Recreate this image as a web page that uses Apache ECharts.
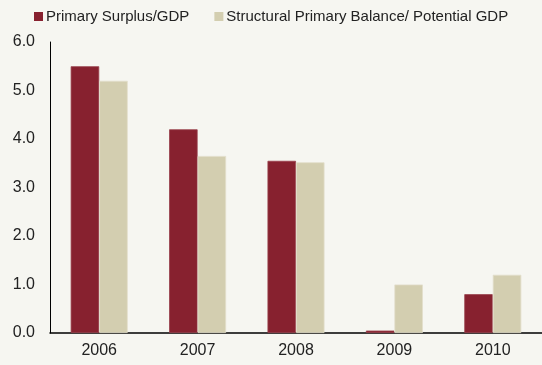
<!DOCTYPE html>
<html><head><meta charset="utf-8">
<script src="https://cdn.jsdelivr.net/npm/echarts@6/dist/echarts.min.js"></script>
<style>html,body{margin:0;padding:0;background:#F6F6F1;}#c{width:542px;height:365px;}</style>
</head><body><div id="c"></div>
<script>
var categories = ['2006','2007','2008','2009','2010'];
var primarySurplus = [5.5, 4.2, 3.55, 0.05, 0.8];
var structuralBalance = [5.2, 3.65, 3.52, 1.0, 1.2];
var seriesNames = ['Primary Surplus/GDP', 'Structural Primary Balance/ Potential GDP'];

var chart = echarts.init(document.getElementById('c'));
chart.setOption({
  backgroundColor: '#F6F6F1',
  animation: false,
  textStyle: {fontFamily: 'Liberation Sans, Arial, sans-serif'},
  legend: {
    left: 29, top: 4,
    itemWidth: 9, itemHeight: 9, itemGap: 25,
    icon: 'rect',
    itemStyle: {borderWidth: 0},
    textStyle: {fontSize: 15, color: '#222', padding: [0,0,0,-2]},
    data: seriesNames
  },
  grid: {left: 50, right: -6, top: 42, bottom: 32},
  xAxis: {
    type: 'category', data: categories,
    axisLine: {lineStyle: {color: '#000', width: 1.5}},
    axisTick: {show: false},
    axisLabel: {fontSize: 16, color: '#222', margin: 10}
  },
  yAxis: {
    type: 'value', min: 0, max: 6, interval: 1,
    axisLine: {show: true, lineStyle: {color: '#000', width: 1}},
    axisTick: {show: false},
    splitLine: {show: false},
    axisLabel: {fontSize: 16, color: '#222', margin: 15, formatter: function(v){return v.toFixed(1);}}
  },
  series: [
    {name: seriesNames[0], type: 'bar', data: primarySurplus, barWidth: 28.5, barGap: '0%',
     itemStyle: {color: '#87212F', borderColor: '#98404B', borderWidth: 0.8}},
    {name: seriesNames[1], type: 'bar', data: structuralBalance, barWidth: 28.5,
     itemStyle: {color: '#D3CEB0', borderColor: '#E2DECA', borderWidth: 0.8}}
  ]
});
</script></body></html>
